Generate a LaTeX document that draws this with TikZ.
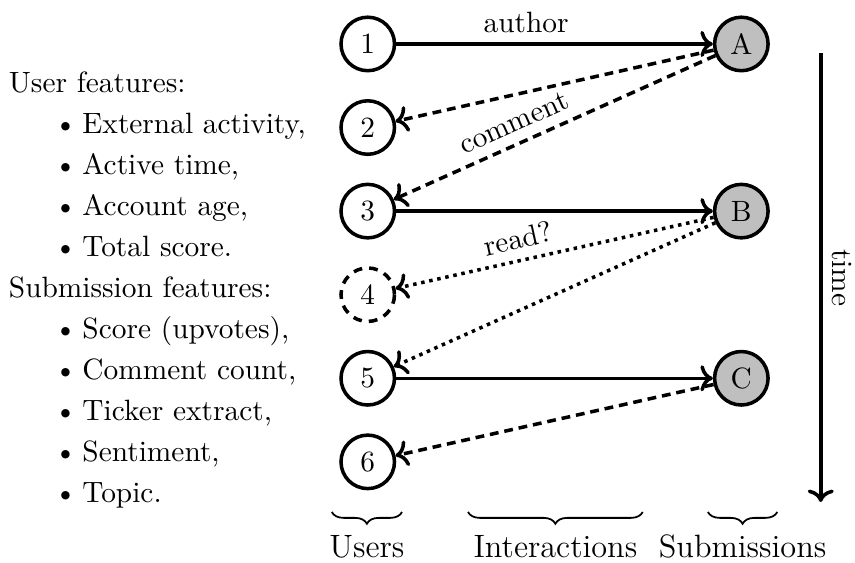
\documentclass[tikz,border=0pt]{standalone}
\usepackage{tikz}
\usetikzlibrary{arrows,shapes,decorations.pathreplacing,arrows.meta,positioning}

\begin{document}
\begin{tikzpicture}[
	usr/.style={circle,draw,very thick,minimum size=6.4mm,inner sep=0pt},
	sub/.style={circle,draw,very thick,fill=gray!50,minimum size=6.4mm,inner sep=0pt},
	ghost/.style={usr,dash pattern=on 3pt off 2.4pt},
	act/.style={->,very thick},
	cmt/.style={->,very thick,dash pattern=on 3pt off 2pt},
	rd/.style={->,very thick,dash pattern=on \pgflinewidth off 1.6pt},
	brc/.style={decorate,decoration={brace,mirror,amplitude=4pt},line width=0.6pt},
	col/.style={midway,anchor=base,yshift=-0.54cm,font=\fontsize{11}{13}\selectfont},
	feat/.style={anchor=base west,inner sep=0pt}]

	\useasboundingbox (-4.40,0.526) rectangle (5.83,-6.21);

	% users, one per time step
	\node[usr]   (u1) at (0,0)  {1};
	\node[usr]   (u2) at (0,-1) {2};
	\node[usr]   (u3) at (0,-2) {3};
	\node[ghost] (u4) at (0,-3) {4};
	\node[usr]   (u5) at (0,-4) {5};
	\node[usr]   (u6) at (0,-5) {6};

	% submissions
	\node[sub] (sA) at (4.47,0)  {A};
	\node[sub] (sB) at (4.47,-2) {B};
	\node[sub] (sC) at (4.47,-4) {C};

	\draw[act] (u1)--(sA) node[pos=0.41,above]{author};
	\draw[cmt] (sA)--(u2);
	\draw[cmt] (sA)--(u3) node[pos=0.6,sloped,above]{comment};
	\draw[act] (u3)--(sB);
	\draw[rd]  (sB)--(u4) node[pos=0.6,sloped,above]{read?};
	\draw[rd]  (sB)--(u5);
	\draw[act] (u5)--(sC);
	\draw[cmt] (sC)--(u6);

	% time axis
	\coordinate (t0) at (5.42,-0.11);
	\coordinate (t1) at (5.42,-5.48);
	\draw[act] (t0)--(t1) node[midway,rotate=-90,anchor=south]{time};

	% column braces
	\coordinate (bu0) at (-0.43,-5.6); \coordinate (bu1) at (0.41,-5.6);
	\coordinate (bi0) at (1.20,-5.6);  \coordinate (bi1) at (3.29,-5.6);
	\coordinate (bs0) at (4.07,-5.6);  \coordinate (bs1) at (4.90,-5.6);
	\draw[brc] (bu0)--(bu1) node[col]{Users};
	\draw[brc] (bi0)--(bi1) node[col]{Interactions};
	\draw[brc] (bs0)--(bs1) node[col]{Submissions};

	% feature lists
	\node[feat] (hu) at (-4.30,-0.586) {User features:};
	\foreach \t [count=\i] in {{External activity,},{Active time,},{Account age,},{Total score.}}{
		\node[feat] (bu\i) at (-3.76,{-0.586-0.4904*\i}) {\textbullet};
		\node[feat] (it\i) at (-3.42,{-0.586-0.4904*\i}) {\t};
	}
	\node[feat] (hs) at (-4.30,{-0.586-0.4904*5}) {Submission features:};
	\foreach \t [count=\i from 6] in {{Score (upvotes),},{Comment count,},{Ticker extract,},{Sentiment,},{Topic.}}{
		\node[feat] (bu\i) at (-3.76,{-0.586-0.4904*\i}) {\textbullet};
		\node[feat] (it\i) at (-3.42,{-0.586-0.4904*\i}) {\t};
	}
\end{tikzpicture}
\end{document}
